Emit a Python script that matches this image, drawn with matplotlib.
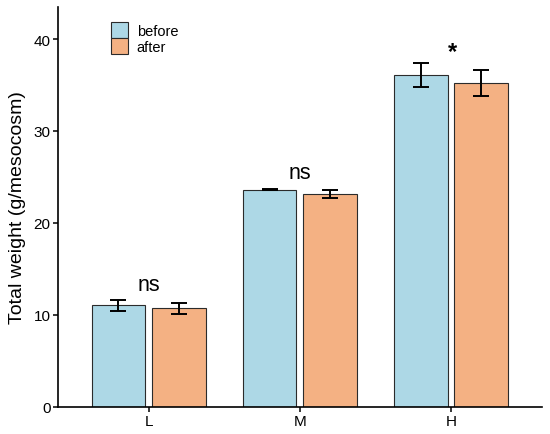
import matplotlib
matplotlib.use("Agg")
import matplotlib.pyplot as plt
import numpy as np
from matplotlib.patches import Patch

plt.rcParams['font.family'] = ['Liberation Sans', 'DejaVu Sans']

categories = ["L", "M", "H"]
before_vals = [11.0, 23.6, 36.1]
before_err = [0.65, 0.06, 1.27]
after_vals = [10.7, 23.15, 35.2]
after_err = [0.6, 0.45, 1.4]
sig_labels = ["ns", "ns", "*"]
sig_y = [13.3, 25.5, 38.6]
series_names = ["before", "after"]
colors = ["#ADD8E6", "#F4B183"]

fig = plt.figure(figsize=(5.5, 4.35), dpi=100)
ax = fig.add_axes([0.1055, 0.0632, 0.8795, 0.9184])

x = np.arange(1, len(categories) + 1)
off = 0.2
w = 0.355
ax.bar(x - off, before_vals, width=w, color=colors[0], edgecolor="#2b2b2b", linewidth=0.8, zorder=2)
ax.bar(x + off, after_vals, width=w, color=colors[1], edgecolor="#2b2b2b", linewidth=0.8, zorder=2)
ax.errorbar(x - off, before_vals, yerr=before_err, fmt="none", ecolor="black", elinewidth=1.4, capsize=5.8, capthick=1.4, zorder=3)
ax.errorbar(x + off, after_vals, yerr=after_err, fmt="none", ecolor="black", elinewidth=1.4, capsize=5.8, capthick=1.4, zorder=3)

for xi, lab, yy in zip(x, sig_labels, sig_y):
    if lab == "*":
        ax.text(xi + 0.01, yy, lab, ha="center", va="center", fontsize=17, fontweight="bold")
    else:
        ax.text(xi, yy, lab, ha="center", va="center", fontsize=15.5)

ax.set_xlim(0.4, 3.6)
ax.set_ylim(0, 43.5)
ax.set_xticks(x)
ax.set_xticklabels(categories)
ax.set_yticks([0, 10, 20, 30, 40])
ax.tick_params(axis="both", labelsize=11, length=3.5, width=1.1, color="black", pad=2)
ax.set_ylabel("Total weight (g/mesocosm)", fontsize=14, labelpad=5)
for s in ["top", "right"]:
    ax.spines[s].set_visible(False)
for s in ["left", "bottom"]:
    ax.spines[s].set_linewidth(1.2)

handles = [Patch(facecolor=c, edgecolor="#2b2b2b", linewidth=0.8) for c in colors]
leg = ax.legend(handles, series_names, loc="upper left", bbox_to_anchor=(0.1096, 0.962),
                frameon=False, fontsize=10.5, handlelength=1.15, handleheight=1.3,
                labelspacing=0.0, handletextpad=0.6, borderaxespad=0.0, borderpad=0.0)

fig.savefig("out.png", dpi=100)
